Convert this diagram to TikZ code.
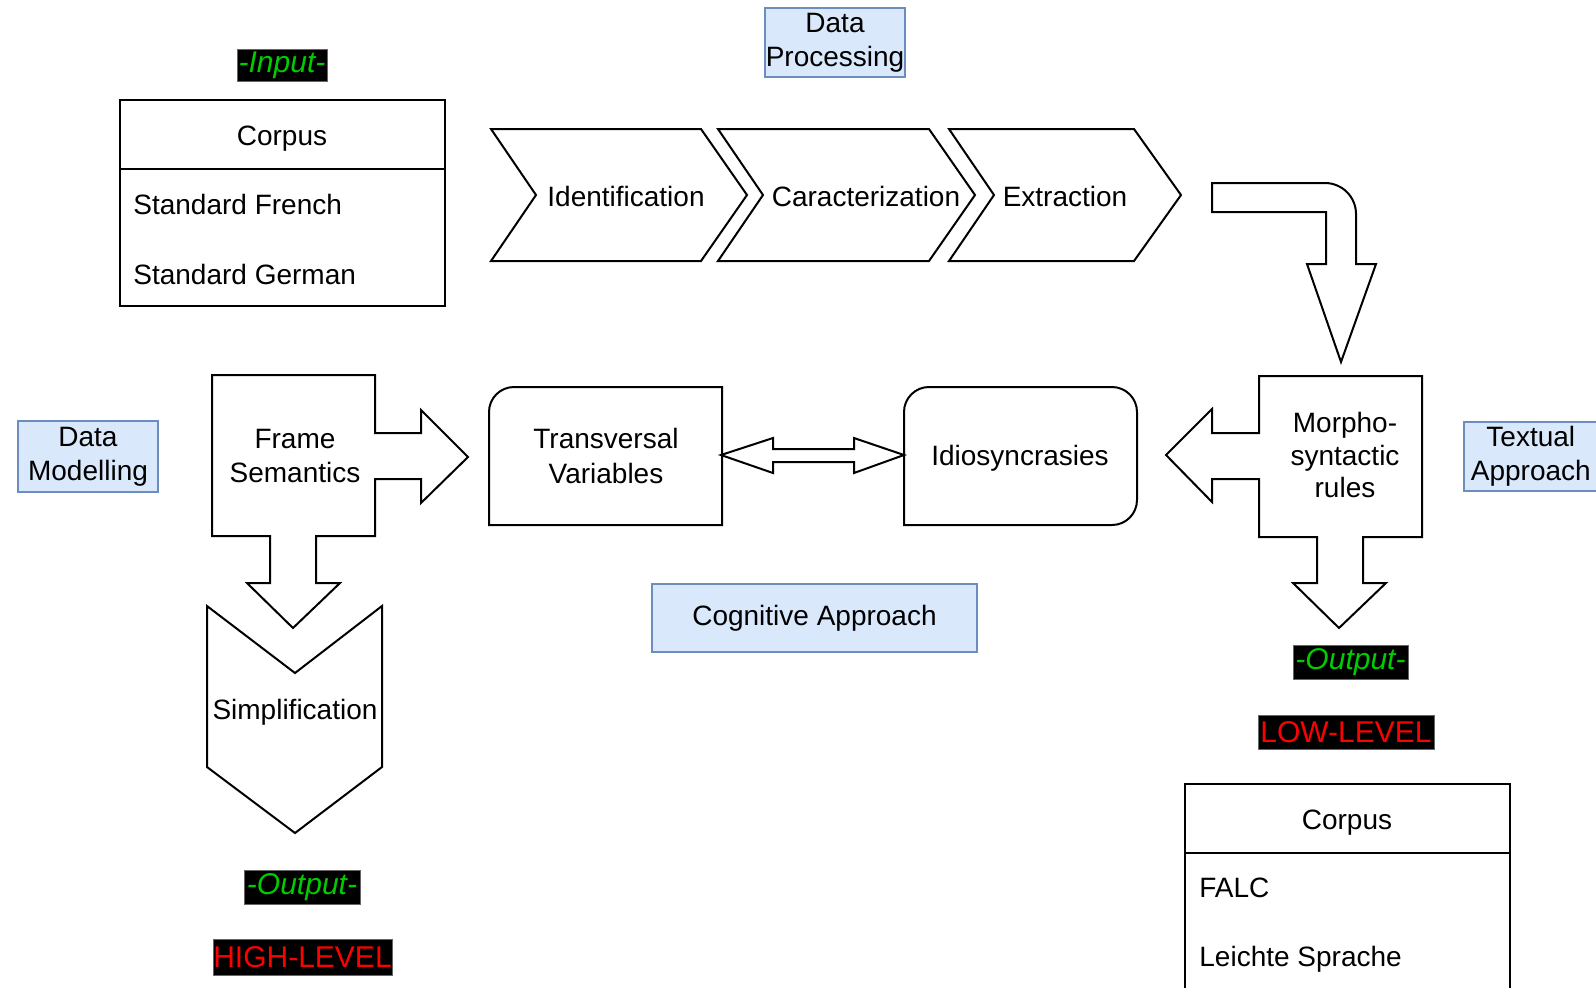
\documentclass[tikz,border=0pt]{standalone}
\usepackage{fontspec}
\setmainfont{Liberation Sans}
\definecolor{fillblue}{HTML}{DAE8FC}
\definecolor{bordblue}{HTML}{6C8EBF}
\definecolor{tagGreen}{HTML}{00CC00}
\definecolor{tagRed}{HTML}{FF0000}
\begin{document}
\begin{tikzpicture}[x=0.5pt,y=-0.5pt,
  every node/.style={font=\fontsize{14}{17}\selectfont, inner sep=0pt},
  shp/.style={draw=black, fill=white, line width=1pt, line join=miter},
  bluebox/.style={draw=bordblue, fill=fillblue, line width=0.8pt, align=center},
  tag/.style={fill=black, draw=black!60, line width=0.3pt, font=\fontsize{15}{18}\selectfont},
  lbl/.style={align=center}]
\useasboundingbox (0,0) rectangle (1596,987);
\clip (0,0) rectangle (1596,987);

% ---- Input corpus
\draw[shp] (120,100) rectangle (445,306);
\draw[line width=1pt] (120,169) -- (445,169);
\node (corpusA) at (282,139) {Corpus};
\node[anchor=west] (sf) at (133,204) {Standard French};
\node[anchor=west] (sg) at (133,274) {Standard German};
\node[tag, minimum width=45pt, minimum height=16pt, text=tagGreen] (input) at (282,65) {\itshape -Input-};

% ---- Data Processing
\node[bluebox, minimum width=70pt, minimum height=34.5pt] (dp) at (835,42.5) {Data\\Processing};

% ---- Chevrons
\draw[shp] (491,129) -- (701,129) -- (747,195) -- (701,261) -- (491,261) -- (536,195) -- cycle;
\draw[shp] (718,129) -- (929,129) -- (975,195) -- (929,261) -- (718,261) -- (763,195) -- cycle;
\draw[shp] (949,129) -- (1134,129) -- (1181,195) -- (1134,261) -- (949,261) -- (994,195) -- cycle;
\node (ident) at (626,196) {Identification};
\node (carac) at (866,196) {Caracterization};
\node (extr) at (1065,196) {Extraction};

% ---- Bent arrow
\draw[shp] (1212,183) -- (1325,183) .. controls (1342.1,183) and (1356,196.9) .. (1356,214)
  -- (1356,264) -- (1376,264) -- (1341,362) -- (1307,264) -- (1326,264) -- (1326,212) -- (1212,212) -- cycle;

% ---- Morpho-syntactic rules
\draw[shp] (1259,376) -- (1422,376) -- (1422,537) -- (1363,537) -- (1363,583) -- (1386,583)
  -- (1339,628) -- (1293,583) -- (1317,583) -- (1317,537) -- (1259,537) -- (1259,479)
  -- (1212,479) -- (1212,502) -- (1166,455) -- (1212,409) -- (1212,433) -- (1259,433) -- cycle;
\node[lbl, font=\fontsize{14}{16.3}\selectfont] (morpho) at (1345,455) {Morpho-\\syntactic\\rules};

\node[bluebox, minimum width=67pt, minimum height=34.5pt, anchor=west] (textual) at (1463,456.5) {Textual\\Approach};

% ---- Frame Semantics
\draw[shp] (212,375) -- (375,375) -- (375,433) -- (421,433) -- (421,410) -- (468,457) -- (421,503)
  -- (421,479) -- (375,479) -- (375,536) -- (316,536) -- (316,583) -- (340,583) -- (293,628)
  -- (247,583) -- (270,583) -- (270,536) -- (212,536) -- cycle;
\node[lbl] (frame) at (295,456) {Frame\\Semantics};

% ---- Simplification
\draw[shp] (207,606) -- (295,673) -- (382,606) -- (382,767) -- (295,833) -- (207,767) -- cycle;
\node (simp) at (295,712) {Simplification};

% ---- Transversal Variables / Idiosyncrasies
\draw[shp] (489,525) -- (489,412) .. controls (489,398.2) and (500.2,387) .. (514,387)
  -- (722,387) -- (722,525) -- cycle;
\node[lbl, font=\fontsize{14}{17.5}\selectfont] (trans) at (606,456) {Transversal\\Variables};
\draw[shp] (904,525) -- (904,412) .. controls (904,398.2) and (915.2,387) .. (929,387)
  -- (1112,387) .. controls (1125.8,387) and (1137,398.2) .. (1137,412)
  -- (1137,500) .. controls (1137,513.8) and (1125.8,525) .. (1112,525) -- cycle;
\node (idio) at (1020,458) {Idiosyncrasies};

% ---- Double arrow
\draw[shp] (721,455) -- (773,438) -- (773,449) -- (854,449) -- (854,438) -- (904,455)
  -- (854,473) -- (854,462) -- (773,462) -- (773,473) -- cycle;

% ---- Blue labels
\node[bluebox, minimum width=162.5pt, minimum height=34pt] (cog) at (814.5,618) {Cognitive Approach};
\node[bluebox, minimum width=70pt, minimum height=35.5pt] (dm) at (88,456.5) {Data\\Modelling};

% ---- Output tags
\node[tag, minimum width=58pt, minimum height=17pt, text=tagGreen] (outL) at (302,887) {\itshape -Output-};
\node[tag, minimum width=89.5pt, minimum height=18pt, text=tagRed] (high) at (302.5,957) {HIGH-LEVEL};
\node[tag, minimum width=57.5pt, minimum height=17pt, text=tagGreen] (outR) at (1350.5,662) {\itshape -Output-};
\node[tag, minimum width=88pt, minimum height=17pt, text=tagRed] (low) at (1346,732) {LOW-LEVEL};

% ---- Output corpus
\draw[shp] (1185,784) rectangle (1510,1010);
\draw[line width=1pt] (1185,853) -- (1510,853);
\node (corpusB) at (1347,823) {Corpus};
\node[anchor=west] (falc) at (1199,888) {FALC};
\node[anchor=west] (leichte) at (1199,959) {Leichte Sprache};
\end{tikzpicture}
\end{document}
